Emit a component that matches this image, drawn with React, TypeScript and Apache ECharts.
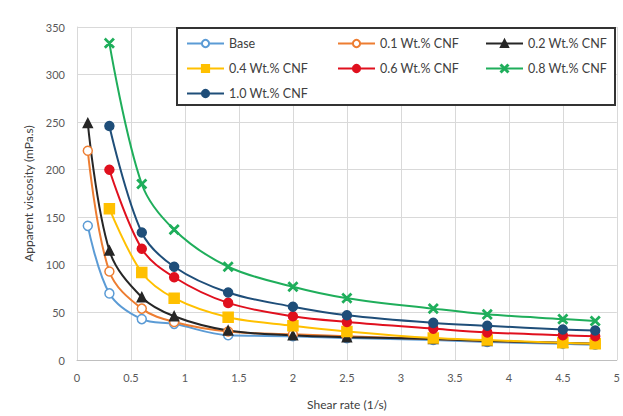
import React, { useEffect, useRef } from "react";
import * as echarts from "echarts";

const xLong = [0.1, 0.3, 0.6, 0.9, 1.4, 2, 2.5, 3.3, 3.8, 4.5, 4.8];
const xShort = [0.3, 0.6, 0.9, 1.4, 2, 2.5, 3.3, 3.8, 4.5, 4.8];

const base = [141, 70, 43, 38, 26, 25, 23, 21, 19, 17, 16];
const cnf01 = [220, 93, 54, 40, 30, 27, 25, 22, 20, 18, 17];
const cnf02 = [249, 115, 66, 46, 31, 26, 24, 22, 20, 18, 17];
const cnf04 = [159, 92, 65, 45, 36, 30, 23, 21, 18, 17];
const cnf06 = [200, 117, 87, 60, 46, 40, 33, 29, 26, 25];
const cnf08 = [333, 185, 137, 98, 77, 65, 54, 48, 43, 41];
const cnf10 = [246, 134, 98, 71, 56, 47, 39, 36, 32, 31];

const names = [
  "Base",
  "0.1 Wt.% CNF",
  "0.2 Wt.% CNF",
  "0.4 Wt.% CNF",
  "0.6 Wt.% CNF",
  "0.8 Wt.% CNF",
  "1.0 Wt.% CNF",
];

const xTicks = { min: 0, max: 5, interval: 0.5 };
const yTicks = { min: 0, max: 350, interval: 50 };

const FONT = "Lato, 'Open Sans', sans-serif";
const X_SYMBOL = "path://M1,0 L10,9 L9,10 L0,1 Z M9,0 L10,1 L1,10 L0,9 Z";

function pairs(xs: number[], ys: number[]) {
  return ys.map((y, i) => [xs[i], y]);
}

export default function App() {
  const ref = useRef<HTMLDivElement>(null);
  useEffect(() => {
    if (!ref.current) return;
    const chart = echarts.init(ref.current, null, { renderer: "svg" });
    const mk = (
      name: string,
      xs: number[],
      ys: number[],
      color: string,
      symbol: string,
      size: number,
      fill?: string
    ) => ({
      name,
      type: "line",
      data: pairs(xs, ys),
      smooth: 0.35,
      symbol,
      symbolSize: size,
      showAllSymbol: true,
      lineStyle: { color, width: 2 },
      itemStyle: { color: fill || color, borderColor: color, borderWidth: 1.5 },
      z: 2,
    });
    const legendCommon = {
      orient: "vertical",
      top: 37,
      itemWidth: 37,
      itemHeight: 9,
      itemGap: 12,
      textStyle: { fontFamily: FONT, fontSize: 12.5, color: "#404040" },
      z: 6,
      padding: 0,
    };
    chart.setOption({
      animation: false,
      grid: { left: 77, right: 1, top: 27, bottom: 56, containLabel: false },
      xAxis: {
        type: "value",
        ...xTicks,
        name: "Shear rate (1/s)",
        nameLocation: "middle",
        nameGap: 38,
        nameTextStyle: { fontFamily: FONT, fontSize: 12, color: "#404040" },
        axisLine: { show: true, lineStyle: { color: "#BFBFBF" } },
        axisTick: { show: false },
        axisLabel: { fontFamily: FONT, fontSize: 11, color: "#595959", margin: 12 },
        splitLine: { show: true, lineStyle: { color: "#D9D9D9" } },
      },
      yAxis: {
        type: "value",
        ...yTicks,
        name: "Apparent viscosity (mPa.s)",
        nameLocation: "middle",
        nameGap: 40,
        nameTextStyle: { fontFamily: FONT, fontSize: 12, color: "#404040" },
        axisLine: { show: true, lineStyle: { color: "#D9D9D9" } },
        axisTick: { show: false },
        axisLabel: { fontFamily: FONT, fontSize: 11, color: "#595959", margin: 12 },
        splitLine: { show: true, lineStyle: { color: "#D9D9D9" } },
      },
      graphic: [
        {
          type: "rect",
          shape: { x: 177, y: 28, width: 438, height: 77 },
          style: { fill: "#ffffff", stroke: "#333333", lineWidth: 2 },
          z: 5,
        },
      ],
      legend: [
        { ...legendCommon, left: 186, data: [names[0], names[3], names[6]] },
        { ...legendCommon, left: 337, data: [names[1], names[4]] },
        { ...legendCommon, left: 485, data: [names[2], names[5]] },
      ],
      series: [
        mk(names[0], xLong, base, "#5B9BD5", "circle", 9, "#ffffff"),
        mk(names[1], xLong, cnf01, "#ED7D31", "circle", 9, "#ffffff"),
        mk(names[2], xLong, cnf02, "#262626", "triangle", 9),
        mk(names[3], xShort, cnf04, "#FFC000", "rect", 10),
        mk(names[4], xShort, cnf06, "#E0101E", "circle", 9),
        mk(names[5], xShort, cnf08, "#1FAE5B", X_SYMBOL, 9),
        mk(names[6], xShort, cnf10, "#1F4E79", "circle", 9),
      ],
    });
    return () => chart.dispose();
  }, []);
  return <div ref={ref} style={{ width: 623, height: 416, position: "absolute", left: 0, top: 0 }} />;
}
